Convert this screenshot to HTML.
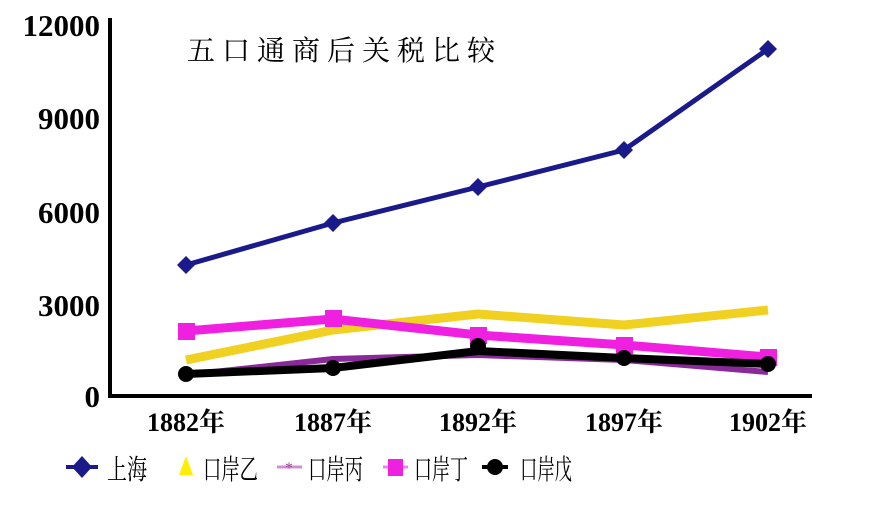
<!DOCTYPE html>
<html><head><meta charset="utf-8"><style>
body{margin:0;background:#fff;width:892px;height:500px;overflow:hidden}
text{font-family:"Liberation Serif","Noto Serif CJK SC",serif}
</style></head><body>
<svg width="892" height="500" viewBox="0 0 892 500" xmlns="http://www.w3.org/2000/svg">
<rect width="892" height="500" fill="#fff"/>
<line x1="110" y1="18" x2="110" y2="397" stroke="#000" stroke-width="4"/>
<line x1="108" y1="396" x2="812" y2="396" stroke="#000" stroke-width="4"/>
<g font-size="31" font-weight="bold" text-anchor="end" fill="#000">
<text x="100" y="36">12000</text><text x="100" y="129">9000</text><text x="100" y="223">6000</text><text x="100" y="316">3000</text><text x="100" y="407">0</text>
</g>
<g font-size="26" font-weight="bold" text-anchor="middle" fill="#000">
<text x="186" y="431">1882年</text><text x="333" y="431">1887年</text><text x="478" y="431">1892年</text><text x="624" y="431">1897年</text><text x="768" y="431">1902年</text>
</g>
<text x="187" y="60" font-size="28" letter-spacing="7" fill="#000">五口通商后关税比较</text>
<polyline points="186,360 333,330 478,314 624,325 768,310" fill="none" stroke="#f0d020" stroke-width="9" stroke-linejoin="round"/>
<polyline points="186,331 333,319 478,335 624,345 768,357" fill="none" stroke="#f020e0" stroke-width="9"/>
<g fill="#f020e0"><rect x="178" y="323" width="17" height="17"/><rect x="325" y="310" width="17" height="17"/><rect x="470" y="327" width="17" height="17"/><rect x="616" y="337" width="17" height="17"/><rect x="760" y="349" width="17" height="17"/></g>
<polyline points="186,375 333,359 478,355 624,360 768,372" fill="none" stroke="#8a2a9a" stroke-width="6"/>
<polyline points="186,374 333,368 478,351 624,358 768,364" fill="none" stroke="#000" stroke-width="8"/>
<g fill="#000"><circle cx="186" cy="374" r="8"/><circle cx="333" cy="368" r="8"/><circle cx="478" cy="346" r="8"/><circle cx="624" cy="358" r="8"/><circle cx="768" cy="364" r="8"/></g>
<polyline points="186,265 333,223 478,187 624,150 768,49" fill="none" stroke="#1a1a8a" stroke-width="5"/>
<g fill="#1a1a8a"><path d="M186 256l9 9-9 9-9-9z"/><path d="M333 214l9 9-9 9-9-9z"/><path d="M478 178l9 9-9 9-9-9z"/><path d="M624 141l9 9-9 9-9-9z"/><path d="M768 40l9 9-9 9-9-9z"/></g>
<g font-size="28" fill="#000" font-family="'Noto Sans CJK SC',sans-serif">
<line x1="66" y1="467" x2="98" y2="467" stroke="#1a1a8a" stroke-width="4"/><path d="M82 456l10 11-10 11-10-11z" fill="#1a1a8a"/><text x="107" y="479" textLength="40" lengthAdjust="spacingAndGlyphs" font-family="'Noto Serif CJK SC',serif">上海</text>
<path d="M186 456l7 19h-14z" fill="#ffee00"/><text x="203" y="479" textLength="55" lengthAdjust="spacingAndGlyphs">口岸乙</text>
<line x1="277" y1="467" x2="302" y2="467" stroke="#d090d0" stroke-width="3"/><text x="285" y="473" font-size="16" fill="#a040a0">*</text><text x="308" y="479" textLength="55" lengthAdjust="spacingAndGlyphs">口岸丙</text>
<line x1="383" y1="467" x2="408" y2="467" stroke="#f080f0" stroke-width="3"/><rect x="388" y="459" width="15" height="17" fill="#f020e0"/><text x="414" y="479" textLength="54" lengthAdjust="spacingAndGlyphs">口岸丁</text>
<line x1="482" y1="467" x2="508" y2="467" stroke="#000" stroke-width="4"/><circle cx="495" cy="467" r="8" fill="#000"/><text x="520" y="479" textLength="52" lengthAdjust="spacingAndGlyphs">口岸戊</text>
</g>
</svg>
</body></html>
